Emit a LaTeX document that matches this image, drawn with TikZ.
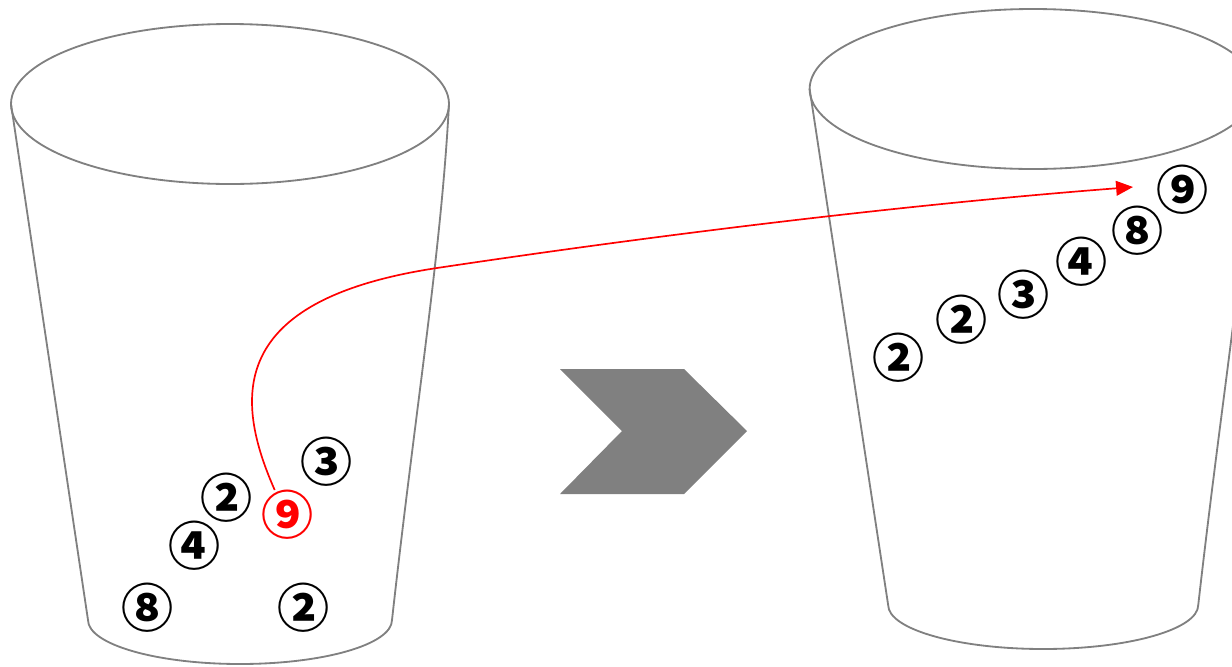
\documentclass[tikz,border=0pt]{standalone}
\usepackage{fontspec}
\usetikzlibrary{arrows.meta}
\newfontfamily\circfont{Noto Sans CJK JP}

\tikzset{
  cupline/.style={draw=gray, line width=1.3pt},
  num/.style={font=\circfont\bfseries\fontsize{37}{40}\selectfont, inner sep=0pt},
  moveline/.style={red, line width=1.2pt, -{Triangle[length=12pt,width=10.5pt]}}
}

\newcommand{\drawcup}[2]{%
  \begin{scope}[shift={#1}, xscale=#2]
    \draw[cupline] (-219,0) -- (-142,516) arc[start angle=180, end angle=0, x radius=152, y radius=44]
      .. controls (186,300) and (211,150) .. (219,0);
    \draw[cupline] (0,0) ellipse[x radius=219, y radius=80];
  \end{scope}}

\begin{document}
\begin{tikzpicture}[x=0.025cm, y=-0.025cm]
  \useasboundingbox (0,0) rectangle (1232,666);
  \clip (0,0) rectangle (1232,666);

  \drawcup{(230,104)}{1}
  \drawcup{(1033,89)}{1.02}

  \fill[gray] (560,369) -- (684,369) -- (747,431) -- (684,494) -- (560,494) -- (622,431) -- cycle;

  \node[num] (a3) at (327,462) {③};
  \node[num] (a2) at (227,498) {②};
  \node[num, text=red] (a9) at (288,515) {⑨};
  \node[num] (a4) at (195,546) {④};
  \node[num] (a8) at (148,608) {⑧};
  \node[num] (a2b) at (304,608) {②};

  \node[num] (b2) at (899,358) {②};
  \node[num] (b2b) at (962,320) {②};
  \node[num] (b3) at (1024,295) {③};
  \node[num] (b4) at (1082,262) {④};
  \node[num] (b8) at (1138,231) {⑧};
  \node[num] (b9) at (1183,190) {⑨};

  \coordinate (tip) at (1133,187);
  \draw[moveline] (a9.118) .. controls (235,400) and (225,300) .. (437,268)
    .. controls (650,236) and (900,205) .. (tip);
\end{tikzpicture}
\end{document}
